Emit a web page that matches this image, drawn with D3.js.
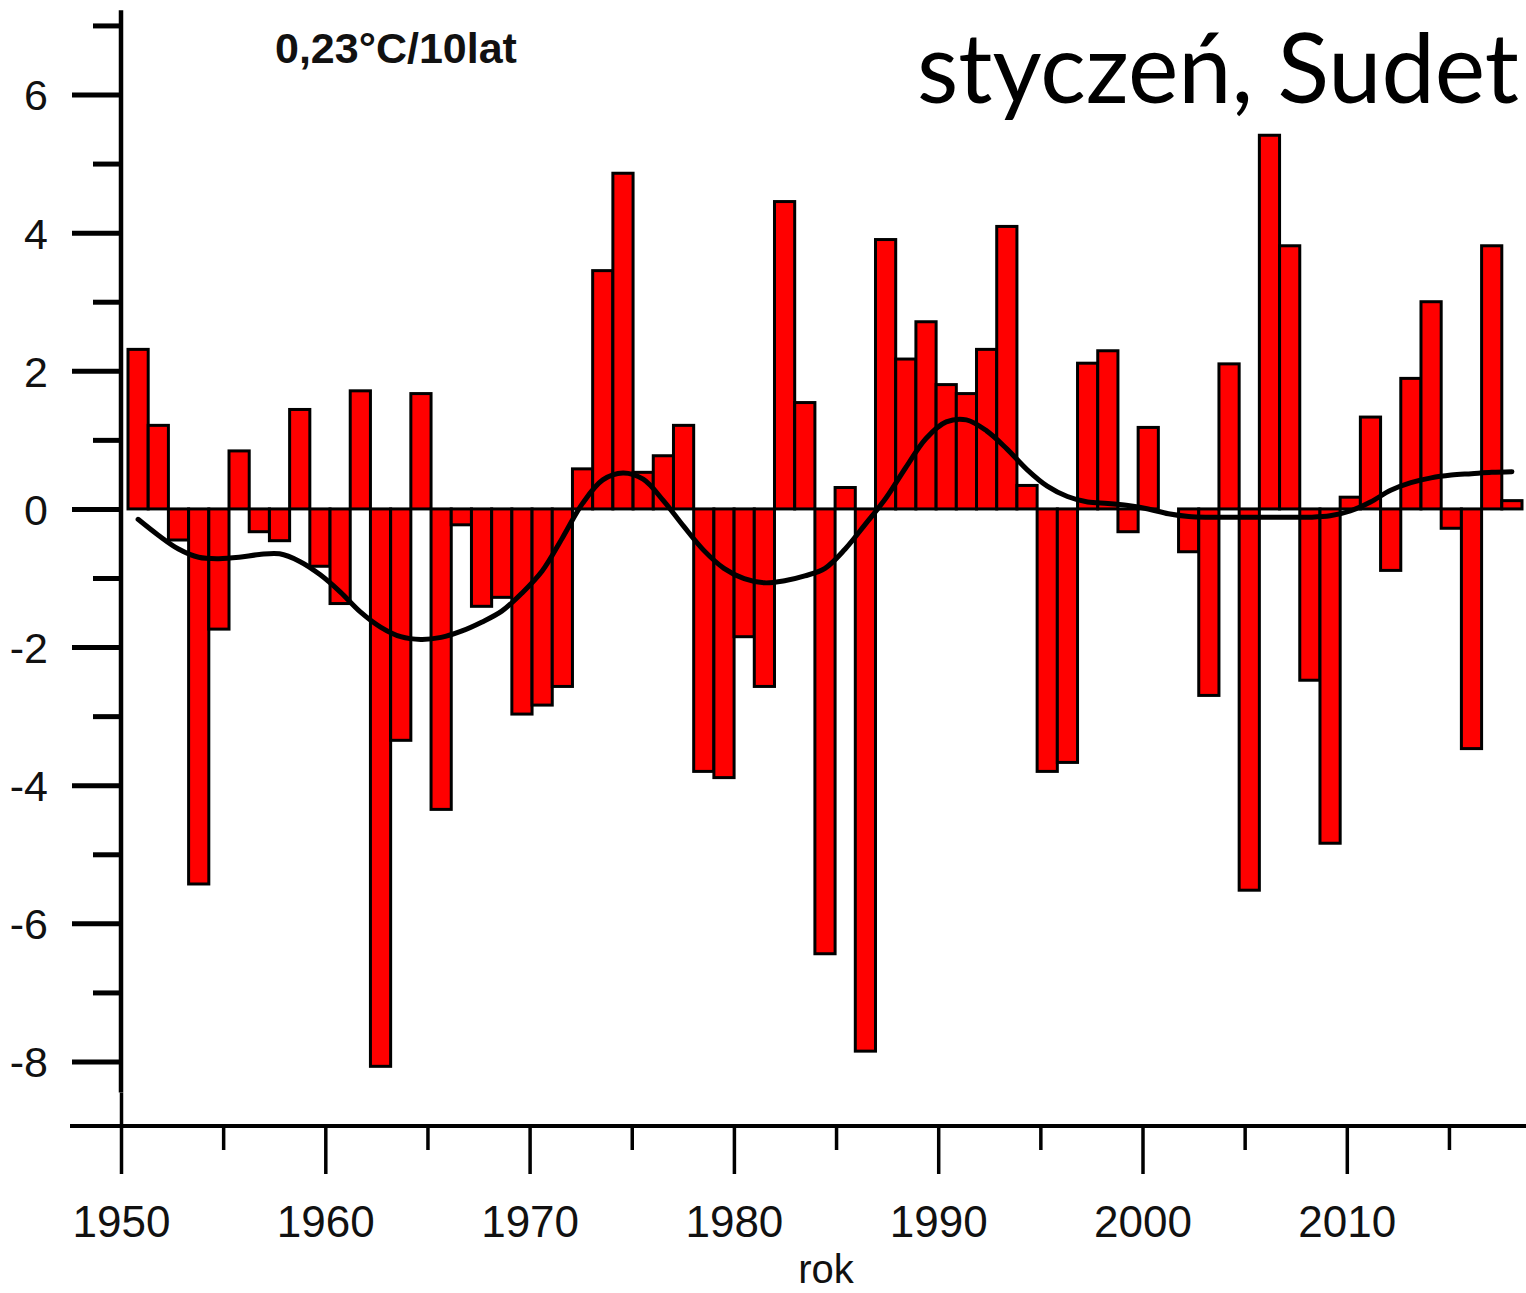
<!DOCTYPE html>
<html>
<head>
<meta charset="utf-8">
<script src="https://cdn.jsdelivr.net/npm/d3@7"></script>
<style>
  html, body { margin: 0; padding: 0; background: #fff; }
  svg { display: block; }
</style>
</head>
<body>
<svg id="chart" width="1526" height="1293"></svg>
<script>
// ---- data ----
const years = [
  1951,1952,1953,1954,1955,1956,1957,1958,1959,1960,
  1961,1962,1963,1964,1965,1966,1967,1968,1969,1970,
  1971,1972,1973,1974,1975,1976,1977,1978,1979,1980,
  1981,1982,1983,1984,1985,1986,1987,1988,1989,1990,
  1991,1992,1993,1994,1995,1996,1997,1998,1999,2000,
  2001,2002,2003,2004,2005,2006,2007,2008,2009,2010,
  2011,2012,2013,2014,2015,2016,2017,2018,2019
];
const anomalies = [
  2.31, 1.21, -0.45, -5.43, -1.74, 0.84, -0.33, -0.46, 1.44, -0.83,
  -1.37, 1.71, -8.07, -3.35, 1.67, -4.35, -0.23, -1.41, -1.28, -2.97,
  -2.84, -2.57, 0.58, 3.45, 4.86, 0.53, 0.77, 1.21, -3.80, -3.89,
  -1.85, -2.57, 4.45, 1.54, -6.44, 0.31, -7.85, 3.90, 2.17, 2.71,
  1.80, 1.67, 2.31, 4.09, 0.34, -3.80, -3.67, 2.11, 2.29, -0.33,
  1.18, 0.00, -0.62, -2.70, 2.10, -5.52, 5.41, 3.81, -2.48, -4.84,
  0.17, 1.33, -0.89, 1.89, 3.00, -0.28, -3.47, 3.81, 0.12
];
const smooth = [
  -0.15, -0.38, -0.58, -0.70, -0.72, -0.70, -0.66, -0.65, -0.76, -0.95,
  -1.20, -1.49, -1.71, -1.85, -1.89, -1.86, -1.77, -1.64, -1.48, -1.22,
  -0.90, -0.42, 0.08, 0.42, 0.52, 0.43, 0.12, -0.25, -0.60, -0.86,
  -1.01, -1.07, -1.04, -0.97, -0.86, -0.58, -0.22, 0.15, 0.60, 1.02,
  1.26, 1.29, 1.13, 0.87, 0.57, 0.33, 0.18, 0.10, 0.08, 0.05,
  0.00, -0.07, -0.11, -0.12, -0.12, -0.12, -0.12, -0.12, -0.12, -0.10,
  -0.03, 0.10, 0.27, 0.38, 0.45, 0.49, 0.51, 0.53, 0.54
];
const yMajorTicks = [6, 4, 2, 0, -2, -4, -6, -8];
const yMinorTicks = [7, 5, 3, 1, -1, -3, -5, -7];
const xMajorTicks = [1950, 1960, 1970, 1980, 1990, 2000, 2010];
const xMinorTicks = [1955, 1965, 1975, 1985, 1995, 2005, 2015];
const trendLabel = "0,23°C/10lat";
const titleText = "styczeń, Sudet";
const xTitle = "rok";

// ---- layout ----
const svg = d3.select("#chart");
const FONT = "'Liberation Sans', Arial, sans-serif";

const y = d3.scaleLinear().domain([-8, 6]).range([1061.5, 94.5]);
const xAxisScale = d3.scaleLinear().domain([1950, 2020]).range([121, 121 + 70 * 20.43]);
const xBand = d3.scaleBand().domain(years).range([128, 1522]).padding(0);

const axisY = 1126;
const yAxisX = 121;

// bars
svg.append("g").selectAll("rect")
  .data(years.map((yr, i) => ({ yr, v: anomalies[i] })))
  .join("rect")
  .attr("x", d => xBand(d.yr))
  .attr("width", xBand.bandwidth())
  .attr("y", d => y(Math.max(0, d.v)))
  .attr("height", d => Math.abs(y(d.v) - y(0)))
  .attr("fill", "#ff0000")
  .attr("stroke", "#000")
  .attr("stroke-width", 3);

// smooth curve
const line = d3.line()
  .x(d => xBand(d.yr) + xBand.bandwidth() / 2)
  .y(d => y(d.v))
  .curve(d3.curveCatmullRom.alpha(0.5));
svg.append("path")
  .datum(years.map((yr, i) => ({ yr, v: smooth[i] })))
  .attr("d", line)
  .attr("fill", "none")
  .attr("stroke", "#000")
  .attr("stroke-width", 5)
  .attr("stroke-linejoin", "round")
  .attr("stroke-linecap", "round");

// y axis line
svg.append("line")
  .attr("x1", yAxisX).attr("x2", yAxisX)
  .attr("y1", y(7.22)).attr("y2", y(-8.45))
  .attr("stroke", "#000").attr("stroke-width", 4.5);

// y ticks
const yAxisMajor = d3.axisLeft(y).tickValues(yMajorTicks).tickSize(49).tickSizeOuter(0)
  .tickFormat(d => d < 0 ? "-" + Math.abs(d) : String(d));
const gy = svg.append("g").attr("transform", `translate(${yAxisX},0)`).call(yAxisMajor);
gy.select(".domain").remove();
gy.selectAll(".tick line").attr("stroke", "#000").attr("stroke-width", 5);
gy.selectAll(".tick text")
  .attr("x", -73)
  .attr("dy", "0.36em")
  .attr("font-family", FONT)
  .attr("font-size", 43)
  .attr("fill", "#111");

const yAxisMinor = d3.axisLeft(y).tickValues(yMinorTicks).tickSize(28).tickFormat("");
const gym = svg.append("g").attr("transform", `translate(${yAxisX},0)`).call(yAxisMinor);
gym.select(".domain").remove();
gym.selectAll(".tick line").attr("stroke", "#000").attr("stroke-width", 5);

// x axis line
svg.append("line")
  .attr("x1", 70).attr("x2", 1526)
  .attr("y1", axisY).attr("y2", axisY)
  .attr("stroke", "#000").attr("stroke-width", 4);

// x ticks
const xAxisMajor = d3.axisBottom(xAxisScale).tickValues(xMajorTicks).tickSize(48).tickSizeOuter(0)
  .tickFormat(d3.format("d"));
const gx = svg.append("g").attr("transform", `translate(0,${axisY})`).call(xAxisMajor);
gx.select(".domain").remove();
gx.selectAll(".tick line").attr("stroke", "#000").attr("stroke-width", 3.5);
gx.selectAll(".tick text")
  .attr("y", 111)
  .attr("dy", 0)
  .attr("font-family", FONT)
  .attr("font-size", 44)
  .attr("fill", "#111");
// the first major tick continues up to the y axis end
gx.selectAll(".tick").filter(d => d === 1950).select("line")
  .attr("y1", y(-8.45) - axisY);

const xAxisMinor = d3.axisBottom(xAxisScale).tickValues(xMinorTicks).tickSize(24).tickFormat("");
const gxm = svg.append("g").attr("transform", `translate(0,${axisY})`).call(xAxisMinor);
gxm.select(".domain").remove();
gxm.selectAll(".tick line").attr("stroke", "#000").attr("stroke-width", 3.5);

// axis title
svg.append("text")
  .attr("x", 826).attr("y", 1283)
  .attr("text-anchor", "middle")
  .attr("font-family", FONT)
  .attr("font-size", 40)
  .attr("fill", "#111")
  .text(xTitle);

// trend label
svg.append("text")
  .attr("x", 275).attr("y", 63)
  .attr("font-family", FONT)
  .attr("font-weight", "bold")
  .attr("font-size", 43)
  .attr("fill", "#111")
  .text(trendLabel);

// title
svg.append("text")
  .attr("x", 1519).attr("y", 103)
  .attr("text-anchor", "end")
  .attr("font-family", "Lato, 'Open Sans', sans-serif")
  .attr("font-size", 96)
  .attr("textLength", 602)
  .attr("lengthAdjust", "spacingAndGlyphs")
  .attr("fill", "#000")
  .text(titleText);
</script>
</body>
</html>
